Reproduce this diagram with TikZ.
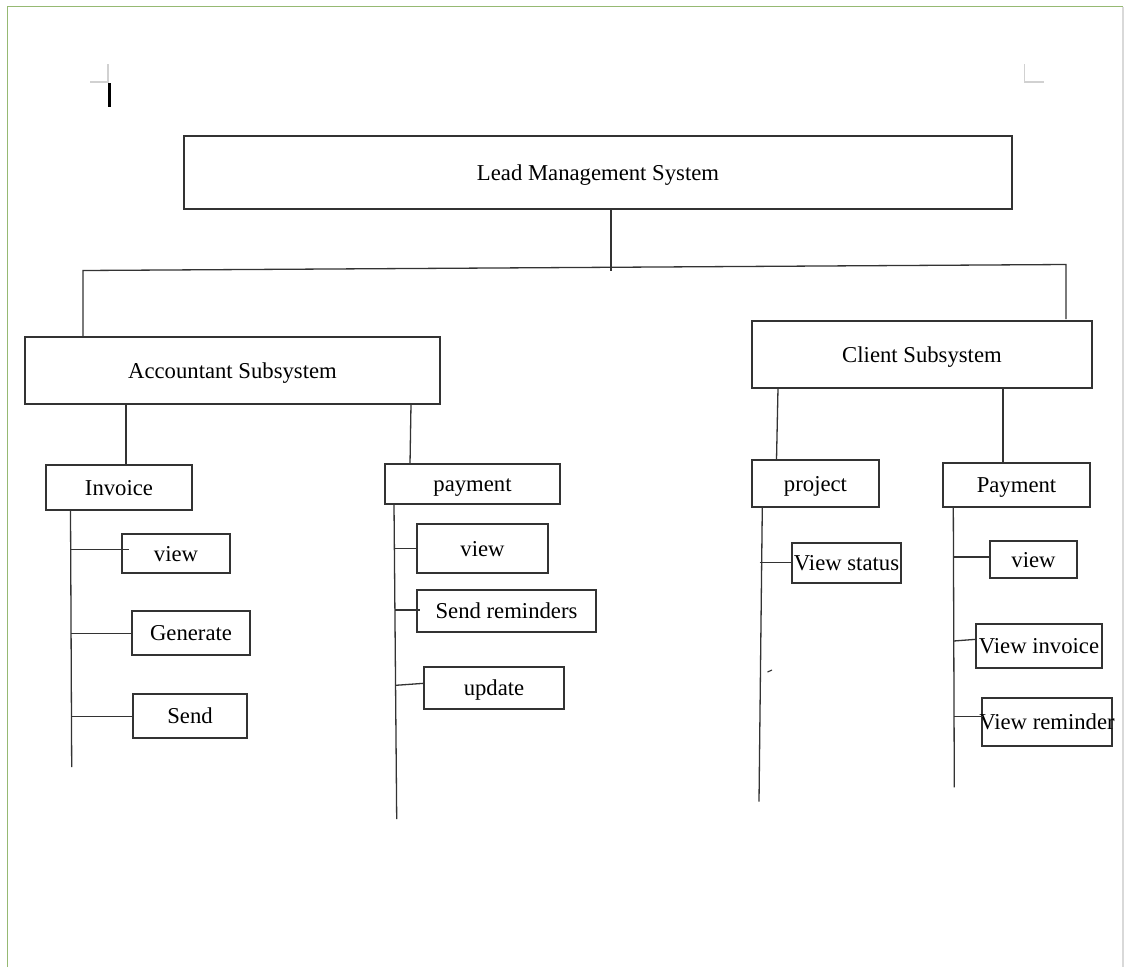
\documentclass[tikz,border=0pt]{standalone}
\usepackage{fontspec}
\setmainfont{Liberation Serif}
\begin{document}
\begin{tikzpicture}[x=1pt,y=-1pt,
  line/.style={draw=black!80, line width=1.3pt},
  box/.style={draw=black!80, line width=1.3pt, inner sep=0pt, outer sep=0pt, rectangle},
  lbl/.style={inner sep=0pt, outer sep=0pt, anchor=base, yshift=-7.5pt, font=\fontsize{22.7}{27}\selectfont},
  guide/.style={draw=black!18, line width=1.6pt}]
% page area
\useasboundingbox (0,0) rectangle (1124,967);
\fill[white] (0,0) rectangle (1124,967);
\coordinate (pgTL) at (7.5,6.5);
\coordinate (pgTR) at (1123,6.5);
\coordinate (pgBL) at (7.5,967);
\coordinate (pgBR) at (1123,967);
\draw[draw={rgb,255:red,150;green,185;blue,115}, line width=1.6pt] (pgBL) -- (pgTL) -- (pgTR);
\draw[draw=black!15, line width=1.2pt] (pgTR) -- (pgBR);
% text-area corner guides and cursor
\coordinate (gA) at (108,64);
\coordinate (gB) at (108,82);
\coordinate (gC) at (90,82);
\draw[guide] (gA) -- (gB) -- (gC);
\coordinate (gD) at (1024.5,64);
\coordinate (gE) at (1024.5,82);
\coordinate (gF) at (1043.5,82);
\draw[guide] (gD) -- (gE) -- (gF);
\coordinate (curA) at (109.3,83);
\coordinate (curB) at (109.3,107);
\draw[black, line width=2.4pt] (curA) -- (curB);

% box helper: name, x1, y1, x2, y2, text
\newcommand\hierbox[6]{%
  \node[box, minimum width={(#4-#2)*1pt}, minimum height={(#5-#3)*1pt}]
    (#1) at ({(#2+#4)/2},{(#3+#5)/2}) {};
  \node[lbl] (#1-t) at (#1.center) {#6};}

\hierbox{top}{184}{136}{1012}{209}{Lead Management System}
\hierbox{acc}{25}{337}{440}{404}{Accountant Subsystem}
\hierbox{cli}{752}{321}{1092}{388}{Client Subsystem}

\hierbox{inv}{46}{465}{192}{510}{Invoice}
\hierbox{iview}{122}{534}{230}{573}{view}
\hierbox{igen}{132}{611}{250}{655}{Generate}
\hierbox{isend}{133}{694}{247}{738}{Send}

\hierbox{pay}{385}{464}{560}{504}{payment}
\hierbox{pview}{417}{524}{548}{573}{view}
\hierbox{prem}{417}{590}{596}{632}{Send reminders}
\hierbox{pupd}{424}{667}{564}{709}{update}

\hierbox{proj}{752}{460}{879}{507}{project}
\hierbox{pstat}{792}{543}{901}{583}{View status}

\hierbox{cpay}{943}{463}{1090}{507}{Payment}
\hierbox{cview}{990}{541}{1077}{578}{view}
\hierbox{cinv}{976}{624}{1102}{668}{View invoice}
\hierbox{crem}{982}{698}{1112}{746}{View reminder}

% system to subsystems
\coordinate (topJ) at (611,271);
\coordinate (busL) at (83,270.5);
\coordinate (busR) at (1066,264.5);
\coordinate (cliJ) at (1066,319);
\draw[line] (topJ |- top.south) -- (topJ);
\draw[line] (busL |- acc.north) -- (busL) -- (busR) -- (cliJ);

% subsystem to module links
\coordinate (xInv) at (126,0);
\draw[line] (xInv |- acc.south) -- (xInv |- inv.north);
\coordinate (xPayA) at (411,0);
\coordinate (xPayB) at (410,0);
\draw[line] (xPayA |- acc.south) -- (xPayB |- pay.north);
\coordinate (xProjA) at (778,0);
\coordinate (xProjB) at (776.5,0);
\draw[line] (xProjA |- cli.south) -- (xProjB |- proj.north);
\coordinate (xCpay) at (1003,0);
\draw[line] (xCpay |- cli.south) -- (xCpay |- cpay.north);

% Invoice spine and branches
\coordinate (invS) at (70.5,510);
\coordinate (invE) at (71.7,767);
\draw[line] (invS) -- (invE);
\coordinate (invB1) at (71,549.3);
\coordinate (invB1e) at (129,549.3);
\draw[line] (invB1) -- (invB1e);
\coordinate (invB2) at (71,633.7);
\draw[line] (invB2) -- (invB2 -| igen.west);
\coordinate (invB3) at (71.3,716.7);
\draw[line] (invB3) -- (invB3 -| isend.west);

% payment spine and branches
\coordinate (payS) at (394,504);
\coordinate (payE) at (396.7,819);
\draw[line] (payS) -- (payE);
\coordinate (payB1) at (394.8,548.3);
\draw[line] (payB1) -- (payB1 -| pview.west);
\coordinate (payB2) at (395.2,610);
\coordinate (payB2e) at (420,610);
\draw[line] (payB2) -- (payB2e);
\coordinate (payB3) at (395.7,685.3);
\coordinate (payB3e) at (424,683.3);
\draw[line] (payB3) -- (payB3e);

% project spine and branch
\coordinate (projS) at (762.3,507);
\coordinate (projE) at (759,801.7);
\draw[line] (projS) -- (projE);
\coordinate (projB1) at (759.5,562.7);
\draw[line] (projB1) -- (projB1 -| pstat.west);
\coordinate (dotA) at (767.5,672);
\coordinate (dotB) at (772,670);
\draw[line, line width=1.1pt] (dotA) -- (dotB);

% Payment spine and branches
\coordinate (cpS) at (953.3,507);
\coordinate (cpE) at (954.3,787.3);
\draw[line] (cpS) -- (cpE);
\coordinate (cpB1) at (953.5,557);
\draw[line] (cpB1) -- (cpB1 -| cview.west);
\coordinate (cpB2) at (953.7,641);
\coordinate (cpB2e) at (976,639.3);
\draw[line] (cpB2) -- (cpB2e);
\coordinate (cpB3) at (954,716.7);
\coordinate (cpB3e) at (983,716.7);
\draw[line] (cpB3) -- (cpB3e);
\end{tikzpicture}
\end{document}
